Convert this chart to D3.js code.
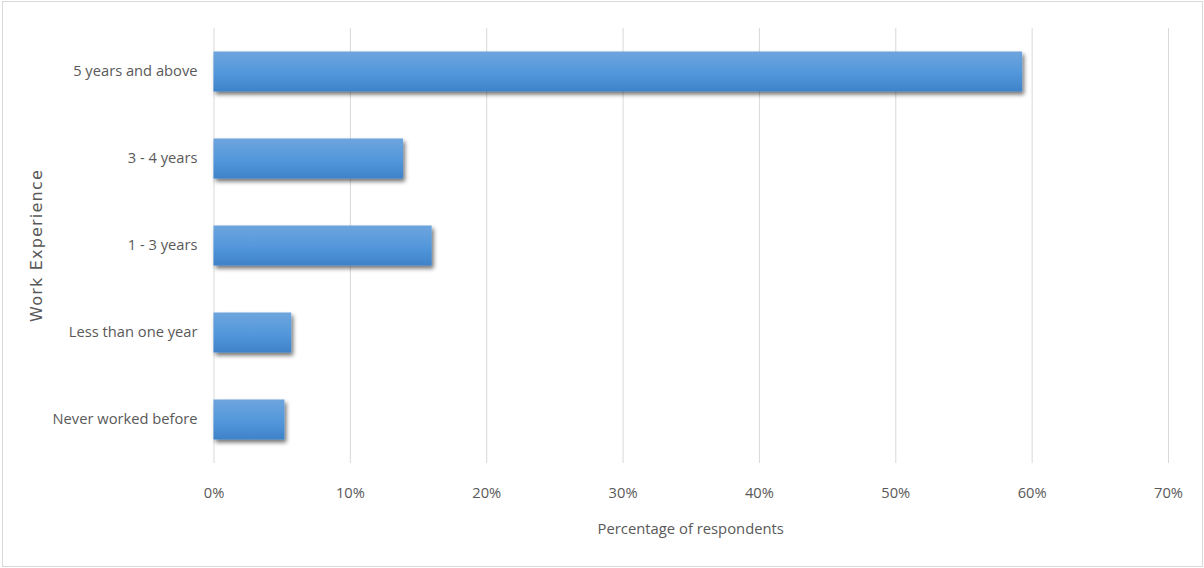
<!DOCTYPE html>
<html>
<head>
<meta charset="utf-8">
<script src="https://cdn.jsdelivr.net/npm/d3@7"></script>
<style>
  html, body { margin: 0; padding: 0; background: #fff; }
  svg { display: block; }
</style>
</head>
<body>
<svg id="chart" width="1204" height="568"></svg>
<script>
// Work experience of respondents (share of respondents, %)
const categories = ["5 years and above", "3 - 4 years", "1 - 3 years", "Less than one year", "Never worked before"];
const values = [59.3, 13.9, 16.0, 5.7, 5.2];
const tickValues = [0, 10, 20, 30, 40, 50, 60, 70];
const xTitle = "Percentage of respondents";
const yTitle = "Work Experience";

const svg = d3.select("#chart");
const W = 1204, H = 568;
const margin = { left: 213.5, right: 36, top: 28, bottom: 105 };
const labelFont = "'Open Sans', sans-serif";

// chart frame
svg.append("rect")
  .attr("x", 2.5).attr("y", 1.5)
  .attr("width", W - 4).attr("height", H - 3)
  .attr("fill", "#fff").attr("stroke", "#d9d9d9").attr("stroke-width", 1);

const x = d3.scaleLinear().domain([0, 70]).range([margin.left, W - margin.right]);
const y = d3.scaleBand().domain(categories).range([margin.top, H - margin.bottom]).paddingInner(0.54).paddingOuter(0.27);

const defs = svg.append("defs");
const grad = defs.append("linearGradient").attr("id", "barFill")
  .attr("x1", 0).attr("y1", 0).attr("x2", 0).attr("y2", 1);
grad.append("stop").attr("offset", "0%").attr("stop-color", "#6ea4dd");
grad.append("stop").attr("offset", "50%").attr("stop-color", "#5499dc");
grad.append("stop").attr("offset", "100%").attr("stop-color", "#3e82c9");

const shadow = defs.append("filter").attr("id", "barShadow")
  .attr("x", "-10%").attr("y", "-20%").attr("width", "130%").attr("height", "160%");
shadow.append("feGaussianBlur").attr("in", "SourceAlpha").attr("stdDeviation", 2.2).attr("result", "blur");
shadow.append("feOffset").attr("in", "blur").attr("dx", 2).attr("dy", 3).attr("result", "off");
shadow.append("feComponentTransfer").attr("in", "off").attr("result", "soft")
  .append("feFuncA").attr("type", "linear").attr("slope", 0.55);
const merge = shadow.append("feMerge");
merge.append("feMergeNode").attr("in", "soft");
merge.append("feMergeNode").attr("in", "SourceGraphic");

// vertical gridlines via axis
const gridAxis = d3.axisBottom(x).tickValues(tickValues).tickSize(-(H - margin.bottom - margin.top)).tickFormat("");
const grid = svg.append("g")
  .attr("transform", `translate(0,${H - margin.bottom})`)
  .call(gridAxis);
grid.select(".domain").remove();
grid.selectAll("line").attr("stroke", "#d9d9d9").attr("stroke-width", 1);

// tick labels
const xAxis = d3.axisBottom(x).tickValues(tickValues).tickSize(0).tickPadding(0).tickFormat(d => d + "%");
const xg = svg.append("g")
  .attr("transform", `translate(0,${H - margin.bottom + 35})`)
  .call(xAxis);
xg.select(".domain").remove();
xg.selectAll("text")
  .attr("fill", "#595959")
  .attr("font-family", labelFont)
  .attr("font-size", 14.7)
  .attr("dy", 0);

const yAxis = d3.axisLeft(y).tickSize(0).tickPadding(16);
const yg = svg.append("g").attr("transform", `translate(${margin.left},0)`).call(yAxis);
yg.select(".domain").remove();
yg.selectAll("text")
  .attr("fill", "#595959")
  .attr("font-family", labelFont)
  .attr("font-size", 14.7);

// bars
svg.append("g").selectAll("rect")
  .data(categories)
  .join("rect")
  .attr("x", x(0))
  .attr("y", d => y(d))
  .attr("width", (d, i) => x(values[i]) - x(0))
  .attr("height", y.bandwidth())
  .attr("fill", "url(#barFill)")
  .attr("filter", "url(#barShadow)");

// axis titles
svg.append("text")
  .attr("x", (x(0) + x(70)) / 2 + 0)
  .attr("y", 534)
  .attr("text-anchor", "middle")
  .attr("fill", "#595959")
  .attr("font-family", labelFont)
  .attr("font-size", 14.8)
  .text(xTitle);

svg.append("text")
  .attr("transform", `translate(42,${(y.range()[0] + y.range()[1]) / 2}) rotate(-90)`)
  .attr("text-anchor", "middle")
  .attr("fill", "#595959")
  .attr("font-family", "'DejaVu Sans', Verdana, sans-serif")
  .attr("font-size", 16)
  .attr("letter-spacing", 1.2)
  .text(yTitle);
</script>
</body>
</html>
